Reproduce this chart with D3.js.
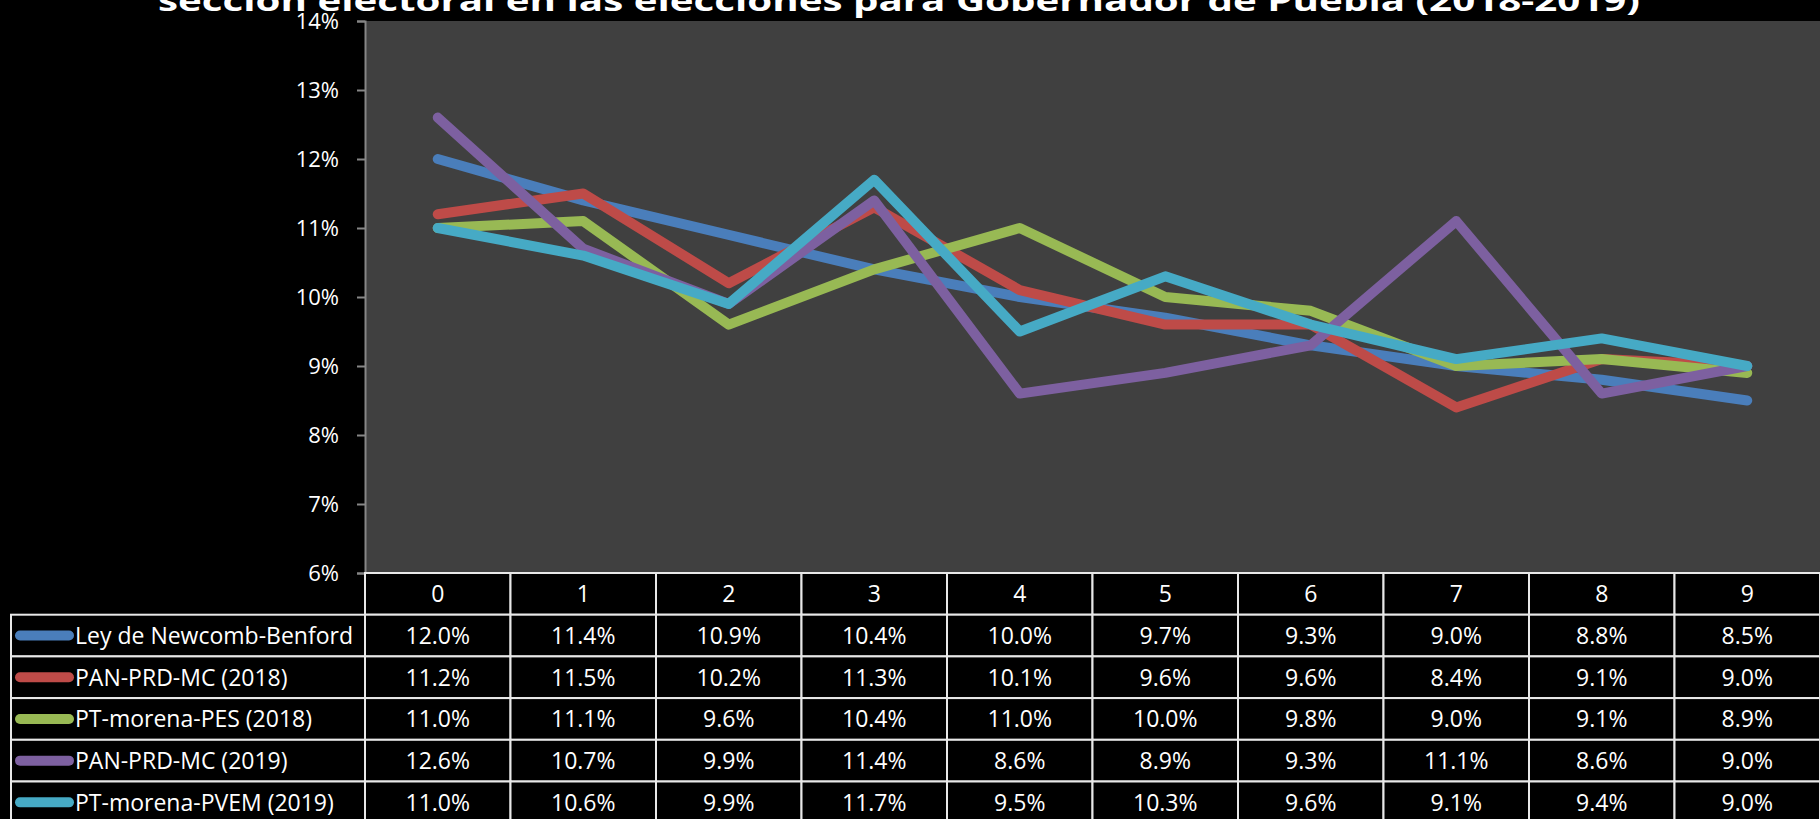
<!DOCTYPE html>
<html>
<head>
<meta charset="utf-8">
<script src="https://cdn.jsdelivr.net/npm/d3@7"></script>
<style>
  html, body { margin: 0; padding: 0; background: #000; overflow: hidden; }
  svg { display: block; }
</style>
</head>
<body>
<svg id="canvas" width="1820" height="819"></svg>
<script>
// data
const digits = ["0", "1", "2", "3", "4", "5", "6", "7", "8", "9"];
const seriesNames = [
  "Ley de Newcomb-Benford",
  "PAN-PRD-MC (2018)",
  "PT-morena-PES (2018)",
  "PAN-PRD-MC (2019)",
  "PT-morena-PVEM (2019)"
];
const benford = [12.0, 11.4, 10.9, 10.4, 10.0, 9.7, 9.3, 9.0, 8.8, 8.5];
const panPrdMc2018 = [11.2, 11.5, 10.2, 11.3, 10.1, 9.6, 9.6, 8.4, 9.1, 9.0];
const ptMorenaPes2018 = [11.0, 11.1, 9.6, 10.4, 11.0, 10.0, 9.8, 9.0, 9.1, 8.9];
const panPrdMc2019 = [12.6, 10.7, 9.9, 11.4, 8.6, 8.9, 9.3, 11.1, 8.6, 9.0];
const ptMorenaPvem2019 = [11.0, 10.6, 9.9, 11.7, 9.5, 10.3, 9.6, 9.1, 9.4, 9.0];
const yTicks = [6, 7, 8, 9, 10, 11, 12, 13, 14];
const colors = ["#4A7EBB", "#BE4B48", "#98B954", "#7D60A0", "#46AAC5"];

const allSeries = [benford, panPrdMc2018, ptMorenaPes2018, panPrdMc2019, ptMorenaPvem2019];

const canvas = d3.select("#canvas");
const font = "'Open Sans', 'Noto Sans', sans-serif";

const plotLeft = 365, plotRight = 1820, plotTop = 21, plotBottom = 573;
const rowH = 41.7;

const x = d3.scaleBand().domain(digits).range([plotLeft, plotRight]);
const y = d3.scaleLinear().domain([6, 14]).range([plotBottom, plotTop]);

// plot background
canvas.append("rect")
  .attr("x", plotLeft).attr("y", plotTop)
  .attr("width", plotRight - plotLeft).attr("height", plotBottom - plotTop)
  .attr("fill", "#404040");

// lines
const line = d3.line()
  .x((d, i) => x(digits[i]) + x.bandwidth() / 2)
  .y(d => y(d));

canvas.append("g").selectAll("path")
  .data(allSeries)
  .enter()
  .append("path")
  .attr("d", line)
  .attr("fill", "none")
  .attr("stroke", (d, i) => colors[i])
  .attr("stroke-width", 10)
  .attr("stroke-linejoin", "round")
  .attr("stroke-linecap", "round");

// title (its first line is off the top of the picture)
canvas.append("text")
  .attr("x", 899)
  .attr("y", 11)
  .attr("text-anchor", "middle")
  .attr("textLength", 1482)
  .attr("lengthAdjust", "spacingAndGlyphs")
  .attr("fill", "#fff")
  .style("font-family", font)
  .style("font-weight", "bold")
  .style("font-size", "29px")
  .text("sección electoral en las elecciones para Gobernador de Puebla (2018-2019)");

// y axis
const yAxis = canvas.append("g")
  .attr("transform", `translate(${plotLeft},0)`)
  .call(d3.axisLeft(y).tickValues(yTicks).tickFormat(d => d + "%").tickSize(8).tickPadding(18));
yAxis.select(".domain").attr("stroke", "#868686").attr("stroke-width", 2);
yAxis.selectAll(".tick line").attr("stroke", "#868686").attr("stroke-width", 2);
yAxis.selectAll(".tick text")
  .attr("fill", "#fff")
  .style("font-family", font)
  .style("font-size", "22px");

// data table
const table = canvas.append("g");
const legendLeft = 11;
const border = "#e8e8e8";
const cellFont = "23px";

// header row
digits.forEach(dg => {
  table.append("rect")
    .attr("x", x(dg)).attr("y", plotBottom)
    .attr("width", x.bandwidth()).attr("height", rowH)
    .attr("fill", "#000").attr("stroke", border).attr("stroke-width", 2);
  table.append("text")
    .attr("x", x(dg) + x.bandwidth() / 2)
    .attr("y", plotBottom + rowH / 2)
    .attr("dy", "0.36em")
    .attr("text-anchor", "middle")
    .attr("fill", "#fff")
    .style("font-family", font)
    .style("font-size", cellFont)
    .text(dg);
});

seriesNames.forEach((name, si) => {
  const top = plotBottom + rowH * (si + 1);
  table.append("rect")
    .attr("x", legendLeft).attr("y", top)
    .attr("width", plotLeft - legendLeft).attr("height", rowH)
    .attr("fill", "#000").attr("stroke", border).attr("stroke-width", 2);
  table.append("line")
    .attr("x1", legendLeft + 9).attr("x2", legendLeft + 58)
    .attr("y1", top + rowH / 2).attr("y2", top + rowH / 2)
    .attr("stroke", colors[si]).attr("stroke-width", 10)
    .attr("stroke-linecap", "round");
  table.append("text")
    .attr("x", legendLeft + 64)
    .attr("y", top + rowH / 2)
    .attr("dy", "0.36em")
    .attr("fill", "#fff")
    .style("font-family", font)
    .style("font-size", cellFont)
    .text(name);

  allSeries[si].forEach((v, i) => {
    const dg = digits[i];
    table.append("rect")
      .attr("x", x(dg)).attr("y", top)
      .attr("width", x.bandwidth()).attr("height", rowH)
      .attr("fill", "#000").attr("stroke", border).attr("stroke-width", 2);
    table.append("text")
      .attr("x", x(dg) + x.bandwidth() / 2)
      .attr("y", top + rowH / 2)
      .attr("dy", "0.36em")
      .attr("text-anchor", "middle")
      .attr("fill", "#fff")
      .style("font-family", font)
      .style("font-size", cellFont)
      .text(v.toFixed(1) + "%");
  });
});
</script>
</body>
</html>
